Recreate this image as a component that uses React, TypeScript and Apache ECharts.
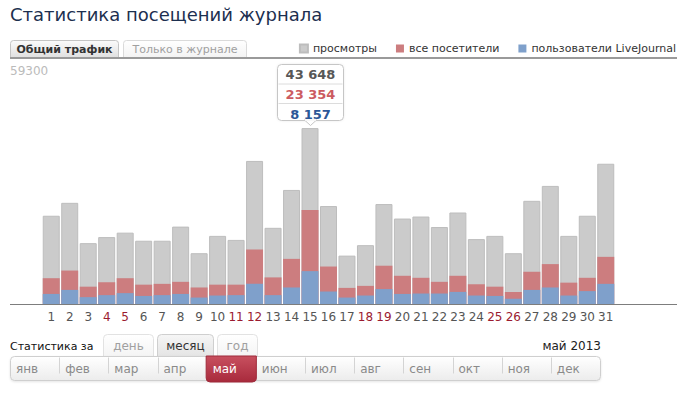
import React, { useEffect, useRef } from "react";
import * as echarts from "echarts";

const days = ["1","2","3","4","5","6","7","8","9","10","11","12","13","14","15","16","17","18","19","20","21","22","23","24","25","26","27","28","29","30","31"];
const weekendDays = ["4","5","11","12","18","19","25","26"];
const views = [21900,25100,15100,16600,17700,15700,15700,19200,12600,16900,15900,35500,18900,28300,43648,24300,12000,14600,24800,21200,21700,19100,22700,16100,16900,12600,25600,29300,16900,21900,34800];
const visitors = [6400,8300,4300,5400,6400,4800,5000,5500,4100,4800,4800,13500,6600,11200,23354,9300,4000,4500,9500,7000,6500,5500,7000,4900,4300,3000,8000,9900,5300,6500,11700];
const ljUsers = [2500,3500,1700,2200,2700,2000,2200,2500,1600,2100,2200,5000,2200,4100,8157,3100,1600,2100,3700,2500,2600,2600,3000,2100,2000,1300,3500,4100,2100,3200,5000];
const seriesNames = ["просмотры", "все посетители", "пользователи LiveJournal"];
const yMax = 59300;
const highlightDay = 14;
const months = ["янв","фев","мар","апр","май","июн","июл","авг","сен","окт","ноя","дек"];
const activeMonth = 4;
const periods = ["день", "месяц", "год"];
const activePeriod = 1;
const trafficTabs = ["Общий трафик", "Только в журнале"];
const titleText = "Статистика посещений журнала";
const periodLabel = "Статистика за";
const currentLabel = "май 2013";

const FONT = "DejaVu Sans";

function fmt(n: number): string {
  return String(n).replace(/\B(?=(\d{3})+(?!\d))/g, " ");
}

function grad(a: string, b: string) {
  return new echarts.graphic.LinearGradient(0, 0, 0, 1, [
    { offset: 0, color: a },
    { offset: 1, color: b },
  ]);
}

function buildGraphics(): any[] {
  const g: any[] = [];
  // traffic tabs
  const tabX = [10, 123];
  const tabW = [108, 123];
  trafficTabs.forEach((t, i) => {
    g.push({
      type: "rect",
      shape: { x: tabX[i] + 0.5, y: 40.5, width: tabW[i], height: 17, r: [3, 3, 0, 0] },
      style: { fill: i === 0 ? grad("#fbfbfb", "#e0e0e0") : grad("#ffffff", "#f3f3f3"), stroke: i === 0 ? "#c4c4c4" : "#dadada", lineWidth: 1 },
    });
    g.push({
      type: "text",
      style: {
        text: t, x: tabX[i] + tabW[i] / 2 + 0.5, y: 49.5, textAlign: "center", textVerticalAlign: "middle",
        fontFamily: FONT, fontSize: 11, fontWeight: i === 0 ? "bold" : "normal", fill: i === 0 ? "#333" : "#a0a0a0",
      },
    });
  });
  // line under tabs
  g.push({ type: "line", shape: { x1: 10, y1: 58, x2: 677, y2: 58 }, style: { stroke: "#9a9a9a", lineWidth: 2 } });
  // y max label
  g.push({
    type: "text",
    style: { text: String(yMax), x: 10, y: 71, textVerticalAlign: "middle", fontFamily: FONT, fontSize: 12, fill: "#bbbbbb" },
  });
  // axis baseline
  g.push({ type: "line", shape: { x1: 10, y1: 304.5, x2: 677, y2: 304.5 }, style: { stroke: "#7d7d7d", lineWidth: 1 } });

  // tooltip box
  const tx = 277.5, ty = 64.5, tw = 66, th = 56;
  g.push({
    type: "rect", z: 100,
    shape: { x: tx, y: ty, width: tw, height: th, r: 4 },
    style: { fill: "#ffffff", stroke: "#c6c6c6", lineWidth: 1, shadowColor: "rgba(0,0,0,0.08)", shadowBlur: 2 },
  });
  g.push({
    type: "polygon", z: 101,
    shape: { points: [[tx + 27, ty + th - 0.5], [tx + 33, ty + th + 5], [tx + 39, ty + th - 0.5]] },
    style: { fill: "#ffffff", stroke: "#c6c6c6", lineWidth: 1 },
  });
  g.push({
    type: "line", z: 102,
    shape: { x1: tx + 27.5, y1: ty + th - 0.5, x2: tx + 38.5, y2: ty + th - 0.5 },
    style: { stroke: "#ffffff", lineWidth: 1.5 },
  });
  [1, 2].forEach((k) => {
    g.push({
      type: "line", z: 101,
      shape: { x1: tx + 1, y1: ty + k * 19.5, x2: tx + tw - 1, y2: ty + k * 19.5 },
      style: { stroke: "#dcdcdc", lineWidth: 1 },
    });
  });
  const tipVals = [views[highlightDay], visitors[highlightDay], ljUsers[highlightDay]];
  const tipColors = ["#575757", "#cc5b61", "#2c5797"];
  tipVals.forEach((v, k) => {
    g.push({
      type: "text", z: 103,
      style: {
        text: fmt(v), x: tx + tw / 2, y: ty + 10 + k * 20, textAlign: "center", textVerticalAlign: "middle",
        fontFamily: FONT, fontSize: 13, fontWeight: "bold", fill: tipColors[k],
      },
    });
  });

  // bottom: period selector
  g.push({
    type: "text",
    style: { text: periodLabel, x: 10, y: 346, textVerticalAlign: "middle", fontFamily: FONT, fontSize: 11, fill: "#111" },
  });
  const pX = [103, 157, 217];
  const pW = [50, 56, 40];
  periods.forEach((p, i) => {
    const act = i === activePeriod;
    g.push({
      type: "rect",
      shape: { x: pX[i] + 0.5, y: 334.5, width: pW[i], height: 22, r: [4, 4, 0, 0] },
      style: { fill: act ? grad("#f6f6f6", "#e4e4e4") : grad("#ffffff", "#f4f4f4"), stroke: act ? "#cfcfcf" : "#e2e2e2", lineWidth: 1 },
    });
    g.push({
      type: "text",
      style: {
        text: p, x: pX[i] + pW[i] / 2 + 0.5, y: 346, textAlign: "center", textVerticalAlign: "middle",
        fontFamily: FONT, fontSize: 12, fill: act ? "#333" : "#a0a0a0",
      },
    });
  });
  g.push({
    type: "text",
    style: { text: currentLabel, x: 601, y: 346, textAlign: "right", textVerticalAlign: "middle", fontFamily: FONT, fontSize: 12, fill: "#222" },
  });
  // months bar
  const mx = 10, mw = 590, my = 356.5, mh = 24;
  const cw = mw / months.length;
  g.push({
    type: "rect",
    shape: { x: mx + 0.5, y: my, width: mw, height: mh, r: 4 },
    style: { fill: grad("#ffffff", "#ececec"), stroke: "#cfcfcf", lineWidth: 1, shadowColor: "rgba(0,0,0,0.1)", shadowBlur: 2, shadowOffsetY: 1 },
  });
  months.forEach((m, i) => {
    const x0 = mx + i * cw;
    if (i > 0 && i !== activeMonth && i !== activeMonth + 1) {
      g.push({
        type: "line",
        shape: { x1: Math.round(x0) + 0.5, y1: my + 1, x2: Math.round(x0) + 0.5, y2: my + 17 },
        style: { stroke: "#d4d4d4", lineWidth: 1 },
      });
    }
    if (i === activeMonth) {
      g.push({
        type: "rect", z: 10,
        shape: { x: x0 - 0.5, y: my - 0.5, width: cw + 1, height: mh + 2, r: [0, 0, 4, 4] },
        style: { fill: grad("#c8505f", "#a82a3c"), stroke: "#9e2a3a", lineWidth: 1 },
      });
    }
    g.push({
      type: "text", z: 11,
      style: {
        text: m, x: x0 + 6, y: my + 12, textVerticalAlign: "middle",
        fontFamily: FONT, fontSize: 12, fill: i === activeMonth ? "#ffffff" : "#8a8a8a",
      },
    });
  });
  return g;
}

export default function App() {
  const ref = useRef<HTMLDivElement>(null);
  useEffect(() => {
    if (!ref.current) return;
    const chart = echarts.init(ref.current, null, { renderer: "svg" });
    const option: any = {
      animation: false,
      textStyle: { fontFamily: FONT },
      title: {
        text: titleText, left: 10, top: 5, padding: 0,
        textStyle: { fontFamily: FONT, fontSize: 18, fontWeight: "normal", color: "#1c2f4f" },
      },
      legend: {
        data: seriesNames, right: 8, top: 43, padding: 0, itemWidth: 8, itemHeight: 8, itemGap: 19,
        icon: "rect", selectedMode: false,
        textStyle: { fontFamily: FONT, fontSize: 11, color: "#333" },
      },
      grid: { left: 42, right: 69, top: 65, bottom: 91, containLabel: false },
      xAxis: {
        type: "category", data: days,
        axisLine: { show: false }, axisTick: { show: false },
        axisLabel: {
          interval: 0, margin: 7, fontFamily: FONT, fontSize: 12, hideOverlap: false,
          color: (v: string) => (weekendDays.indexOf(v) >= 0 ? "#9b1b30" : "#555555"),
        },
      },
      yAxis: { type: "value", min: 0, max: yMax, show: false, splitLine: { show: false } },
      series: [
        {
          name: seriesNames[0], type: "bar", data: views, barWidth: 17, barGap: "-100%",
          itemStyle: { color: "#cbcbcb", borderColor: "#bdbdbd", borderWidth: 1 },
        },
        {
          name: seriesNames[1], type: "bar", data: visitors, barWidth: 17, barGap: "-100%",
          itemStyle: { color: "#cc7d7f" },
        },
        {
          name: seriesNames[2], type: "bar", data: ljUsers, barWidth: 17, barGap: "-100%",
          itemStyle: { color: "#7fa0cb" },
        },
      ],
      graphic: buildGraphics(),
    };
    chart.setOption(option);
    return () => chart.dispose();
  }, []);
  return <div ref={ref} style={{ position: "absolute", left: 0, top: 0, width: 684, height: 395 }} />;
}
